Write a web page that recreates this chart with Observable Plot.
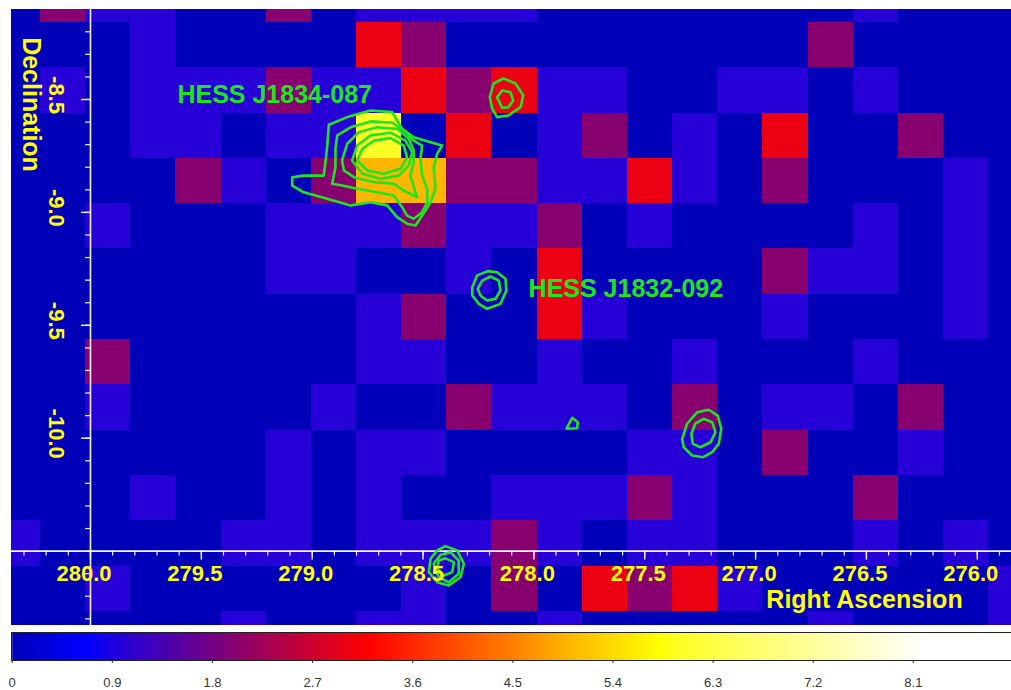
<!DOCTYPE html>
<html><head><meta charset="utf-8">
<script src="https://cdn.jsdelivr.net/npm/d3@7"></script>
<script src="https://cdn.jsdelivr.net/npm/@observablehq/plot@0.6"></script>
<style>
html,body{margin:0;padding:0;background:#fff;}
#chart svg{display:block;}
</style></head><body><div id="chart"></div>
<script>
// ---- count map (rows from top/north to bottom/south, columns from east/left to west/right)
const raEdges = [280.429, 280.226, 280.022, 279.818, 279.615, 279.411, 279.207, 279.004, 278.800, 278.596, 278.393, 278.189, 277.985, 277.782, 277.578, 277.374, 277.171, 276.967, 276.763, 276.560, 276.356, 276.152, 275.949, 275.745];
const decEdges = [-7.958, -8.159, -8.360, -8.560, -8.761, -8.961, -9.162, -9.363, -9.563, -9.764, -9.965, -10.165, -10.366, -10.566, -10.767, -10.968];
const counts = [
  [0,2,1,1,0,0,2,0,1,1,1,1,0,0,0,0,0,0,0,1,0,0,0],
  [0,0,0,1,0,0,0,0,3,2,0,0,0,0,0,0,0,0,2,0,0,0,0],
  [0,1,0,1,1,1,2,1,1,3,2,3,1,1,0,0,1,1,0,1,0,0,0],
  [0,0,0,1,1,0,1,1,6,0,3,0,1,2,0,1,0,3,0,0,2,0,0],
  [0,0,0,0,2,1,0,2,5,5,2,2,1,1,3,1,0,2,0,0,0,1,0],
  [0,0,1,0,0,0,1,1,1,2,1,1,2,0,1,0,0,0,0,1,0,1,0],
  [0,0,0,0,0,0,1,1,0,0,1,0,3,0,0,0,0,2,1,1,0,1,0],
  [0,0,0,0,0,0,0,0,1,2,0,0,3,1,0,0,0,1,0,0,0,1,0],
  [0,0,2,0,0,0,0,0,1,1,0,0,1,0,0,1,0,0,0,1,0,0,0],
  [0,0,1,0,0,0,0,1,0,0,2,1,1,1,0,2,0,1,1,0,2,0,0],
  [0,0,0,0,0,0,1,0,1,1,0,0,0,0,1,1,0,2,0,0,1,0,0],
  [0,0,0,1,0,0,1,0,1,0,0,1,1,1,2,1,0,0,0,2,0,0,0],
  [1,0,0,0,0,1,1,0,1,1,1,2,1,0,1,1,0,0,0,1,0,1,0],
  [0,0,1,0,0,0,0,0,0,1,0,2,0,3,2,3,1,0,0,0,0,0,1],
  [0,0,0,0,0,1,0,0,1,1,0,0,1,0,0,0,0,0,1,0,0,0,1]
];

// ---- colour map
const colorStops = [0, 0.65, 1, 2, 3, 3.2, 4.5, 5, 5.8, 6, 7.2, 8.2, 9];
const colorRamp = ["#0000b9", "#0000ff", "#2600d7", "#880070", "#ec0014", "#ff0000", "#ff8000", "#ffb600", "#ffff00", "#ffff28", "#ffff9e", "#ffffff", "#ffffff"];
const colorbarTicks = [0, 0.9, 1.8, 2.7, 3.6, 4.5, 5.4, 6.3, 7.2, 8.1];

// ---- contours (RA, Dec)
const j1834Ring1 = [[278.925,-8.612],[278.842,-8.578],[278.737,-8.549],[278.639,-8.556],[278.617,-8.593],[278.594,-8.630],[278.542,-8.667],[278.466,-8.689],[278.414,-8.704],[278.436,-8.740],[278.452,-8.800],[278.444,-8.895],[278.466,-8.955],[278.489,-8.992],[278.519,-9.036],[278.534,-9.058],[278.572,-9.050],[278.617,-9.021],[278.662,-8.969],[278.737,-8.955],[278.827,-8.969],[278.932,-8.940],[279.038,-8.911],[279.090,-8.881],[279.090,-8.844],[279.038,-8.837],[278.948,-8.837],[278.940,-8.778],[278.932,-8.704]];
const j1834Ring2 = [[278.910,-8.873],[278.895,-8.800],[278.895,-8.718],[278.887,-8.659],[278.827,-8.623],[278.737,-8.597],[278.639,-8.603],[278.587,-8.637],[278.542,-8.682],[278.504,-8.704],[278.512,-8.763],[278.504,-8.837],[278.481,-8.895],[278.481,-8.955],[278.504,-8.999],[278.542,-9.028],[278.572,-9.014],[278.594,-8.977],[278.632,-8.925],[278.707,-8.911],[278.797,-8.895],[278.865,-8.881]];
const j1834Ring3 = [[278.865,-8.770],[278.842,-8.696],[278.790,-8.645],[278.707,-8.623],[278.617,-8.630],[278.564,-8.674],[278.542,-8.726],[278.542,-8.778],[278.557,-8.837],[278.534,-8.911],[278.526,-8.933],[278.587,-8.903],[278.632,-8.873],[278.722,-8.866],[278.812,-8.844],[278.857,-8.814]];
const j1834Ring4 = [[278.820,-8.770],[278.797,-8.704],[278.737,-8.659],[278.647,-8.647],[278.579,-8.682],[278.549,-8.733],[278.564,-8.792],[278.609,-8.837],[278.692,-8.851],[278.774,-8.829]];
const j1834Ring5 = [[278.797,-8.770],[278.774,-8.718],[278.722,-8.682],[278.647,-8.671],[278.587,-8.704],[278.572,-8.756],[278.602,-8.807],[278.677,-8.829],[278.752,-8.814]];
const spotNorthOuter = [[278.199,-8.490],[278.182,-8.429],[278.137,-8.407],[278.083,-8.429],[278.048,-8.482],[278.060,-8.534],[278.115,-8.571],[278.166,-8.578],[278.188,-8.540]];
const spotNorthInner = [[278.166,-8.490],[278.143,-8.460],[278.106,-8.468],[278.093,-8.504],[278.115,-8.534],[278.143,-8.537]];
const j1832Outer = [[278.278,-9.331],[278.256,-9.279],[278.208,-9.260],[278.166,-9.265],[278.128,-9.294],[278.124,-9.346],[278.151,-9.405],[278.211,-9.427],[278.248,-9.405],[278.278,-9.368]];
const j1832Inner = [[278.253,-9.338],[278.233,-9.302],[278.196,-9.284],[278.158,-9.302],[278.151,-9.346],[278.173,-9.383],[278.211,-9.390],[278.241,-9.368]];
const spotTiny = [[277.853,-9.958],[277.827,-9.910],[277.802,-9.929],[277.805,-9.956]];
const spotWestOuter = [[277.331,-10.003],[277.309,-9.936],[277.263,-9.885],[277.211,-9.874],[277.171,-9.900],[277.155,-9.958],[277.166,-10.025],[277.196,-10.062],[277.236,-10.084],[277.286,-10.077],[277.324,-10.040]];
const spotWestInner = [[277.290,-9.981],[277.271,-9.934],[277.234,-9.914],[277.196,-9.929],[277.181,-9.973],[277.203,-10.018],[277.249,-10.040],[277.283,-10.025]];
const spotSouthOuter = [[278.466,-10.534],[278.436,-10.497],[278.399,-10.478],[278.346,-10.497],[278.316,-10.556],[278.331,-10.616],[278.384,-10.652],[278.436,-10.638],[278.474,-10.593]];
const spotSouthMid = [[278.452,-10.556],[278.421,-10.516],[278.376,-10.505],[278.339,-10.542],[278.339,-10.600],[278.384,-10.638],[278.429,-10.616]];
const spotSouthInner = [[278.429,-10.542],[278.399,-10.532],[278.361,-10.549],[278.368,-10.593],[278.406,-10.608],[278.436,-10.578]];

const sourceLabels = [
  {name: "HESS J1834-087", ra: 279.608, dec: -8.480},
  {name: "HESS J1832-092", ra: 278.024, dec: -9.339}
];

// ---- axes (ticks & labels)
const raMajorTicks = [280.0, 279.5, 279.0, 278.5, 278.0, 277.5, 277.0, 276.5, 276.0];
const raMinorTicks = [280.3,280.2,280.1,280.0,279.9,279.8,279.7,279.6,279.5,279.4,279.3,279.2,279.1,279.0,278.9,278.8,278.7,278.6,278.5,278.4,278.3,278.2,278.1,278.0,277.9,277.8,277.7,277.6,277.5,277.4,277.3,277.2,277.1,277.0,276.9,276.8,276.7,276.6,276.5,276.4,276.3,276.2,276.1,276.0,275.9];
const decMajorTicks = [-8.5, -9.0, -9.5, -10.0];
const decMinorTicks = [-8.2,-8.3,-8.4,-8.5,-8.6,-8.7,-8.8,-8.9,-9.0,-9.1,-9.2,-9.3,-9.4,-9.5,-9.6,-9.7,-9.8,-9.9,-10.0,-10.1,-10.2,-10.3,-10.4,-10.5,-10.6,-10.7,-10.8];
const axisRA = 280.0;
const axisDec = -10.5;

// ---- build tables
const cells = [];
counts.forEach((row, r) => row.forEach((v, c) => cells.push({
  ra1: raEdges[c], ra2: raEdges[c + 1], dec1: decEdges[r], dec2: decEdges[r + 1], value: v
})));
const rings = [j1834Ring1, j1834Ring2, j1834Ring3, j1834Ring4, j1834Ring5, spotNorthOuter, spotNorthInner,
  j1832Outer, j1832Inner, spotTiny, spotWestOuter, spotWestInner, spotSouthOuter, spotSouthMid, spotSouthInner];
const contourPts = [];
rings.forEach((ring, k) => ring.forEach(([ra, dec]) => contourPts.push({ring: k, ra, dec})));

const FONT = "'Liberation Sans', Arial, Helvetica, sans-serif";
const GREEN = "#1ee61e";
const YELLOW = "#ffff00";
const colorScale = {type: "linear", domain: colorStops, range: colorRamp, interpolate: "rgb"};

const main = Plot.plot({
  width: 1011, height: 626,
  marginTop: 9, marginBottom: 1, marginLeft: 11, marginRight: 0,
  x: {domain: [280.3563, 275.8457], axis: null},
  y: {domain: [-10.8295, -8.1014], axis: null},
  color: colorScale,
  style: {fontFamily: FONT, background: "white"},
  marks: [
    Plot.rect(cells, {x1: "ra1", x2: "ra2", y1: "dec1", y2: "dec2", fill: "value", clip: true, shapeRendering: "crispEdges"}),
    // axis lines
    Plot.ruleY([axisDec], {stroke: "#f4f4ff", strokeWidth: 1.6}),
    Plot.ruleX([axisRA], {stroke: "#f4f4ff", strokeWidth: 1.6}),
    // x ticks
    Plot.ruleX(raMinorTicks, {x: d => d, y1: () => axisDec, y2: () => axisDec, insetBottom: -5, stroke: "#f4f4ff", strokeWidth: 1.2}),
    Plot.ruleX(raMajorTicks, {x: d => d, y1: () => axisDec, y2: () => axisDec, insetBottom: -9, stroke: "#f4f4ff", strokeWidth: 1.4}),
    // y ticks
    Plot.ruleY(decMinorTicks, {y: d => d, x1: () => axisRA, x2: () => axisRA, insetLeft: -5, stroke: "#f4f4ff", strokeWidth: 1.2}),
    Plot.ruleY(decMajorTicks, {y: d => d, x1: () => axisRA, x2: () => axisRA, insetLeft: -9, stroke: "#f4f4ff", strokeWidth: 1.4}),
    // contours
    Plot.line(contourPts, {x: "ra", y: "dec", z: "ring", curve: "linear-closed", stroke: GREEN, strokeWidth: 2.6, strokeLinejoin: "round", clip: true}),
    // tick labels
    Plot.text(raMajorTicks, {x: d => d, y: () => axisDec, text: d => d.toFixed(1), dx: -6.5, dy: 23,
      fill: YELLOW, fontSize: 22, fontWeight: "bold", fontFamily: FONT}),
    Plot.text(decMajorTicks, {x: () => axisRA, y: d => d, text: d => d.toFixed(1), rotate: 90, dx: -34.5, dy: -4.5,
      fill: YELLOW, fontSize: 22, fontWeight: "bold", fontFamily: FONT}),
    // axis titles
    Plot.text(["Declination"], {frameAnchor: "top-left", dx: 19, dy: 95, rotate: 90, text: d => d,
      textAnchor: "middle", lineAnchor: "middle",
      fill: YELLOW, fontSize: 25, fontWeight: "bold", fontFamily: FONT}),
    Plot.text(["Right Ascension"], {frameAnchor: "bottom-right", dx: -147, dy: -26, text: d => d,
      textAnchor: "middle", lineAnchor: "middle",
      fill: YELLOW, fontSize: 25, fontWeight: "bold", fontFamily: FONT}),
    // source labels
    Plot.text(sourceLabels, {x: "ra", y: "dec", text: "name", textAnchor: "start",
      fill: GREEN, fontSize: 25, fontWeight: "bold", fontFamily: FONT})
  ]
});

const bar = Plot.plot({
  width: 1011, height: 64,
  marginTop: 6, marginBottom: 30, marginLeft: 11, marginRight: 0,
  x: {domain: [0, 9], range: [11.7, 1013]},
  y: {domain: [0, 1], axis: null},
  color: colorScale,
  style: {fontFamily: FONT, background: "white"},
  marks: [
    Plot.raster({fill: (x, y) => x, x1: 0, x2: 9, y1: 0, y2: 1, width: 1000, height: 1}),
    Plot.frame({stroke: "#222", strokeWidth: 1}),
    Plot.axisX(colorbarTicks, {tickSize: 3, tickPadding: 14, tickFormat: d => String(d), fontSize: 13, fill: "#333", stroke: "#333", label: null})
  ]
});

document.getElementById("chart").append(main, bar);
</script></body></html>
